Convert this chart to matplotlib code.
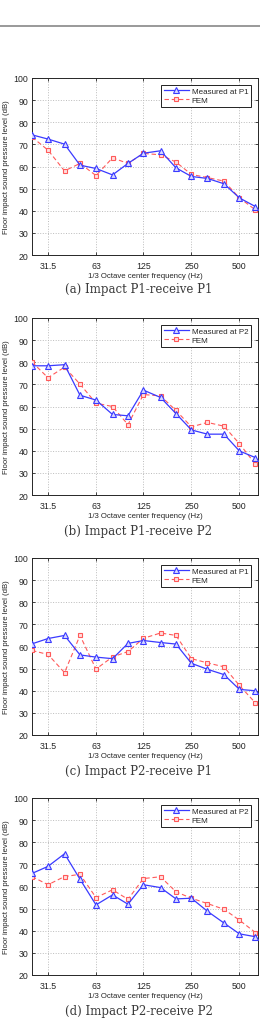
import matplotlib
matplotlib.use("Agg")
import matplotlib.pyplot as plt
from matplotlib.ticker import FixedLocator, NullLocator, FixedFormatter
from matplotlib.lines import Line2D

plt.rcParams['font.family'] = ['Liberation Sans', 'DejaVu Sans']

freqs = [25, 31.5, 40, 50, 63, 80, 100, 125, 160, 200, 250, 315, 400, 500, 630]
xticks = [31.5, 63, 125, 250, 500]
xticklabels = ["31.5", "63", "125", "250", "500"]

meas_a = [74.3, 72.4, 70.1, 60.6, 59.1, 56.2, 61.4, 66.0, 67.1, 59.4, 55.5, 54.6, 52.2, 45.8, 41.9]
fem_a = [73.3, 67.4, 58.0, 61.4, 55.9, 63.9, 61.4, 65.9, 65.3, 62.0, 56.4, 55.0, 53.4, 45.8, 40.4]

meas_b = [78.4, 78.4, 78.9, 65.1, 62.9, 56.4, 55.8, 67.4, 64.1, 56.8, 49.4, 47.5, 47.5, 39.9, 36.9]
fem_b = [80.1, 73.0, 77.8, 70.1, 61.5, 60.0, 51.8, 65.4, 64.8, 58.2, 50.8, 52.8, 51.1, 43.2, 33.9]

meas_c = [61.2, 63.6, 65.0, 56.2, 55.2, 54.5, 61.4, 62.7, 61.8, 61.1, 52.4, 49.7, 47.3, 40.6, 40.0]
fem_c = [58.2, 56.4, 48.2, 65.0, 49.8, 55.3, 57.7, 63.7, 66.1, 65.0, 54.5, 52.6, 50.8, 42.4, 34.5]

meas_d = [65.9, 69.1, 74.8, 63.3, 51.7, 56.2, 52.0, 60.8, 59.5, 54.4, 54.7, 48.8, 43.5, 38.6, 37.3]
fem_d = [64.5, 60.8, 64.5, 65.5, 55.0, 58.5, 54.2, 63.6, 64.4, 57.6, 54.7, 52.3, 49.7, 44.8, 39.2]

panels = [
    (meas_a, fem_a, "Measured at P1", "(a) Impact P1-receive P1"),
    (meas_b, fem_b, "Measured at P2", "(b) Impact P1-receive P2"),
    (meas_c, fem_c, "Measured at P1", "(c) Impact P2-receive P1"),
    (meas_d, fem_d, "Measured at P2", "(d) Impact P2-receive P2"),
]

W, H = 260, 1020
fig = plt.figure(figsize=(W / 100, H / 100), dpi=100)

# top gray rule
fig.add_artist(Line2D([0, 1], [1 - 27 / H, 1 - 27 / H], color='#888888', lw=1.2,
                      transform=fig.transFigure))

tops = [79, 319, 559, 799]
cap_y = [290, 532, 772, 1012]
ax_h = 177
left = 32
right = 258
axcol = '#262626'
blue = '#3a3aff'
red = '#ff5a5a'

for (meas, fem, mlabel, caption), top, cy in zip(panels, tops, cap_y):
    ax = fig.add_axes([left / W, 1 - (top + ax_h) / H, (right - left) / W, ax_h / H])
    ax.set_xscale('log')
    ax.plot(freqs, meas, '-', color=blue, lw=0.9, marker='^', ms=3.8,
            mfc='#d8d8ff', mec=blue, mew=0.8, label=mlabel, zorder=4)
    ax.plot(freqs, fem, '--', color=red, lw=0.8, marker='s', ms=3.2,
            mfc='#ffe0e0', mec=red, mew=0.8, label='FEM', zorder=3, dashes=(4, 2.5))
    ax.set_xlim(25, 654)
    ax.set_ylim(20, 100)
    ax.xaxis.set_major_locator(FixedLocator(xticks))
    ax.xaxis.set_major_formatter(FixedFormatter(xticklabels))
    ax.xaxis.set_minor_locator(NullLocator())
    ax.set_yticks(range(20, 101, 10))
    ax.grid(True, which='major', color='#bbbbbb', ls=':', lw=0.7)
    ax.tick_params(direction='in', length=2.5, width=0.6, top=True, right=True,
                   labelsize=6.3, colors=axcol, pad=2.5)
    ax.tick_params(axis='x', pad=4)
    for s in ax.spines.values():
        s.set_color(axcol)
        s.set_linewidth(0.7)
    ax.set_xlabel('1/3 Octave center frequency (Hz)', fontsize=5.6, color=axcol, labelpad=2)
    ax.set_ylabel('Floor impact sound pressure level (dB)', fontsize=5.6, color=axcol, labelpad=2)
    ax.yaxis.set_label_coords(-22 / (right - left), 0.5)
    leg = ax.legend(loc='upper right', fontsize=5.8, frameon=True, fancybox=False,
                    edgecolor='#222222', framealpha=1, borderpad=0.3, handlelength=3.2,
                    handletextpad=0.3, labelspacing=0.15, borderaxespad=0.9)
    leg.get_frame().set_linewidth(0.7)
    for t in leg.get_texts():
        t.set_color(axcol)
    fig.text(138.5 / W, 1 - cy / H, caption, ha='center', va='center',
             fontsize=8.5, family='DejaVu Serif', color='#3a3a3a')

fig.savefig('out.png', dpi=100)
